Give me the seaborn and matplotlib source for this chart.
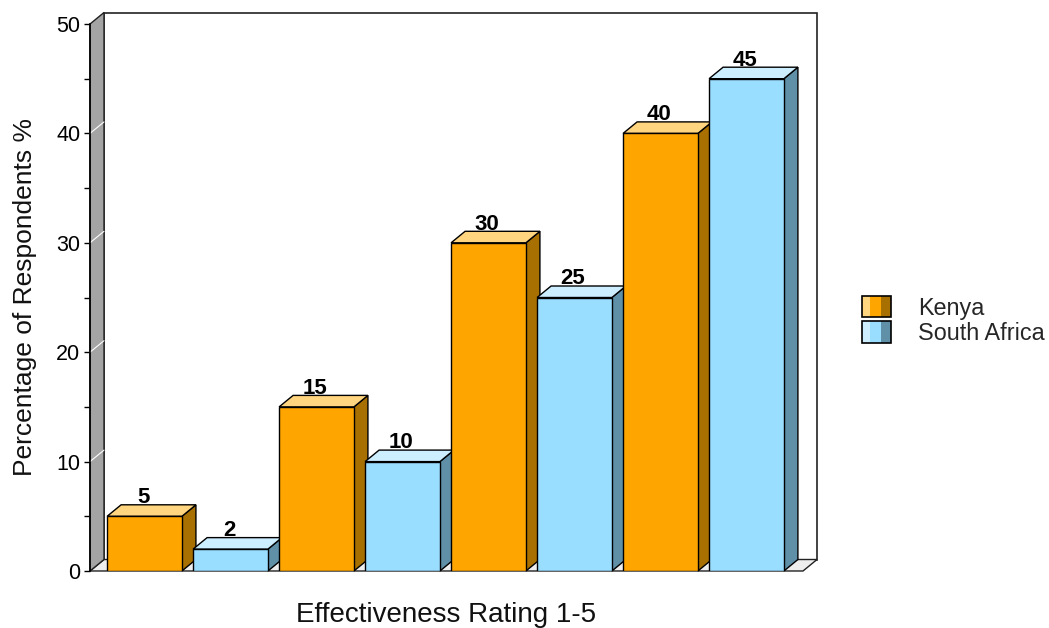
import numpy as np
import pandas as pd
import matplotlib
matplotlib.use("Agg")
import matplotlib.pyplot as plt
import seaborn as sns
from matplotlib.patches import Polygon, Rectangle, Patch
from matplotlib.lines import Line2D
from matplotlib.legend_handler import HandlerBase
from matplotlib.ticker import MultipleLocator

# ---- data ----
ratings = ["1", "2", "3", "4"]
countries = ["Kenya", "South Africa"]
kenya = [5, 15, 30, 40]
south_africa = [2, 10, 25, 45]

front_colors = {"Kenya": "#FFA500", "South Africa": "#99DDFF"}
side_colors = {"Kenya": "#A87000", "South Africa": "#5F90A8"}
top_colors = {"Kenya": "#FFD580", "South Africa": "#CCEEFF"}

df = pd.DataFrame({
    "Rating": ratings * 2,
    "Country": ["Kenya"] * len(kenya) + ["South Africa"] * len(south_africa),
    "Value": kenya + south_africa,
})

sns.set_theme(style="white")
plt.rcParams["font.family"] = ["Liberation Sans", "DejaVu Sans"]

W, H = 1049, 628
fig = plt.figure(figsize=(W / 100, H / 100), dpi=100)
ax = fig.add_axes([90 / W, 1 - 571 / H, 713 / W, 547 / H])

sns.barplot(data=df, x="Rating", y="Value", hue="Country", palette=front_colors,
            hue_order=countries, width=1.0, gap=0.13, saturation=1,
            edgecolor="black", linewidth=1.0, ax=ax, legend=False)

xmin, xmax = -0.567, 3.5785
ymin, ymax = 0, 50
ax.set_xlim(xmin, xmax)
ax.set_ylim(ymin, ymax)

# depth offsets (pixels -> data units)
dx = 14 * (xmax - xmin) / ax.bbox.width
dy = 11.5 * (ymax - ymin) / ax.bbox.height

# back wall, floor, left wall
ax.add_patch(Rectangle((xmin + dx, ymin + dy), xmax - xmin, ymax - ymin,
                       facecolor="white", edgecolor="#222222", lw=1.2,
                       clip_on=False, zorder=0.5))
ax.add_patch(Polygon([(xmin, 0), (xmax, 0), (xmax + dx, dy), (xmin + dx, dy)],
                     closed=True, facecolor="#EEEEEE", edgecolor="#222222",
                     lw=1.0, clip_on=False, zorder=0.6))
ax.add_patch(Polygon([(xmin, 0), (xmin + dx, dy), (xmin + dx, ymax + dy), (xmin, ymax)],
                     closed=True, facecolor="#A4A4A4", edgecolor="#222222",
                     lw=1.0, clip_on=False, zorder=0.7))
for t in [10, 20, 30, 40]:
    ax.add_line(Line2D([xmin, xmin + dx], [t, t + dy], color="white", lw=0.8,
                       clip_on=False, zorder=0.8))

# 3D faces for bars
bar_list = []
for country, cont in zip(countries, ax.containers):
    for p in cont.patches:
        bar_list.append((p, country))
bar_list.sort(key=lambda t: t[0].get_x())

for i, (p, country) in enumerate(bar_list):
    x0, w, h = p.get_x(), p.get_width(), p.get_height()
    base = 10 + 3 * i
    side = Polygon([(x0 + w, 0), (x0 + w + dx, dy), (x0 + w + dx, h + dy), (x0 + w, h)],
                   closed=True, facecolor=side_colors[country], edgecolor="black",
                   lw=1.0, clip_on=False, zorder=base)
    top = Polygon([(x0, h), (x0 + dx, h + dy), (x0 + w + dx, h + dy), (x0 + w, h)],
                  closed=True, facecolor=top_colors[country], edgecolor="black",
                  lw=1.0, clip_on=False, zorder=base)
    ax.add_patch(side)
    ax.add_patch(top)
    p.set_zorder(base + 1)
    ax.annotate(f"{h:g}", xy=(x0 + w / 2, h + dy), xytext=(-1, 1.2),
                textcoords="offset points", ha="center", va="baseline",
                fontsize=16, fontweight="bold", color="black", zorder=100)

# axes styling
for s in ["top", "right", "bottom"]:
    ax.spines[s].set_visible(False)
ax.spines["left"].set_color("black")
ax.spines["left"].set_linewidth(1.2)
ax.spines["left"].set_zorder(5)
ax.yaxis.set_major_locator(MultipleLocator(10))
ax.yaxis.set_minor_locator(MultipleLocator(5))
ax.tick_params(axis="y", which="both", direction="out", length=4.3, width=1.0,
               color="black", left=True, labelsize=15.5, pad=2.8, labelcolor="black")
ax.tick_params(axis="x", which="both", bottom=False, labelbottom=False)
ax.patch.set_visible(False)

ax.set_ylabel("Percentage of Respondents %", fontsize=19, color="#111111")
ax.yaxis.set_label_coords(-0.0743, 0.5)
ax.set_xlabel("Effectiveness Rating 1-5", fontsize=20, color="#111111")
ax.xaxis.set_label_coords(0.5, -0.0575)


# legend with 3-stripe swatches
class StripeHandler(HandlerBase):
    def __init__(self, colors):
        super().__init__()
        self.colors = colors

    def create_artists(self, legend, orig_handle, xdescent, ydescent, width,
                       height, fontsize, trans):
        x0, y0 = -xdescent, -ydescent
        fr = [8 / 29, 11 / 29, 10 / 29]
        arts = []
        cx = x0
        for f, c in zip(fr, self.colors):
            arts.append(Rectangle((cx, y0), width * f, height, facecolor=c,
                                  edgecolor="none", transform=trans))
            cx += width * f
        arts.append(Rectangle((x0, y0), width, height, facecolor="none",
                              edgecolor="black", lw=1.2, transform=trans))
        return arts


handles = [Patch(facecolor=front_colors[c], label=c) for c in countries]
hmap = {h: StripeHandler([top_colors[c], front_colors[c], side_colors[c]])
        for h, c in zip(handles, countries)}
fs = 16.8
fig.legend(handles=handles, labels=countries, handler_map=hmap,
           loc="center left", bbox_to_anchor=(862 / W, 1 - 320.5 / H),
           frameon=False, fontsize=fs, handlelength=29 / (fs * 100 / 72),
           handleheight=24 / (fs * 100 / 72),
           handletextpad=27 / (fs * 100 / 72), labelspacing=0.08,
           borderpad=0, borderaxespad=0)

fig.savefig("out.png", dpi=100)
